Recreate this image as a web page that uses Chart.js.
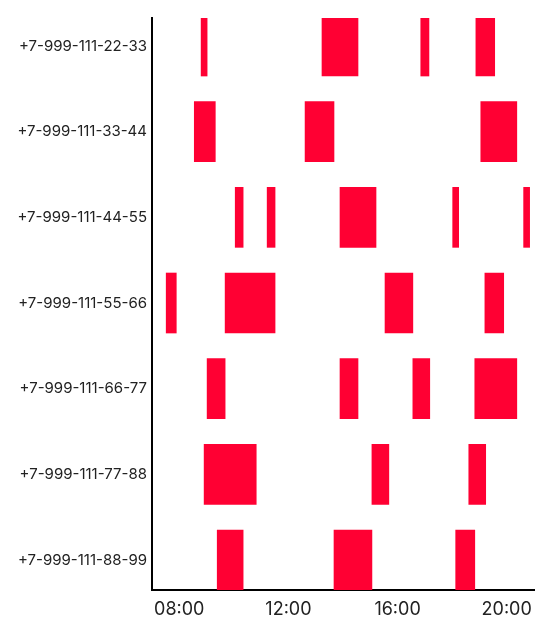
<!DOCTYPE html>
<html>
<head>
<meta charset="utf-8">
<script src="https://cdn.jsdelivr.net/npm/chart.js@4"></script>
<style>
  html, body { margin: 0; padding: 0; background: #fff; }
  #wrap { width: 559px; height: 628px; }
</style>
</head>
<body>
<div id="wrap"><canvas id="c" width="559" height="628"></canvas></div>
<script>
// Categories (rows, top to bottom)
const phones = [
  "+7-999-111-22-33",
  "+7-999-111-33-44",
  "+7-999-111-44-55",
  "+7-999-111-55-66",
  "+7-999-111-66-77",
  "+7-999-111-77-88",
  "+7-999-111-88-99"
];

// Busy intervals per phone, in decimal hours [start, end]
const calls2233 = [[8.80, 9.02], [13.23, 14.55], [16.85, 17.15], [18.87, 19.56]];
const calls3344 = [[8.55, 9.32], [12.61, 13.67], [19.05, 20.37]];
const calls4455 = [[10.05, 10.34], [11.22, 11.51], [13.89, 15.21], [18.02, 18.24], [20.62, 20.84]];
const calls5566 = [[7.52, 7.89], [9.68, 11.51], [15.54, 16.56], [19.20, 19.89]];
const calls6677 = [[9.02, 9.68], [13.89, 14.55], [16.56, 17.18], [18.83, 20.37]];
const calls7788 = [[8.91, 10.82], [15.06, 15.68], [18.61, 19.23]];
const calls8899 = [[9.39, 10.34], [13.67, 15.06], [18.13, 18.83]];

const callsByPhone = [calls2233, calls3344, calls4455, calls5566, calls6677, calls7788, calls8899];

// Time axis ticks (hours)
const hourTicks = [8, 12, 16, 20];

const points = [];
callsByPhone.forEach((list, row) => {
  list.forEach(iv => points.push({ x: [iv[0], iv[1]], y: row }));
});

new Chart(document.getElementById('c'), {
  type: 'bar',
  data: {
    datasets: [{
      data: points,
      backgroundColor: '#ff0033',
      borderWidth: 0,
      barThickness: 60
    }]
  },
  options: {
    indexAxis: 'y',
    responsive: false,
    animation: false,
    layout: { padding: { top: 18, right: 25, left: 0, bottom: 0 } },
    plugins: { legend: { display: false }, tooltip: { enabled: false } },
    scales: {
      x: {
        type: 'linear',
        position: 'bottom',
        min: 7,
        max: 21,
        offset: false,
        afterBuildTicks: (s) => { s.ticks = hourTicks.map(v => ({ value: v })); },
        afterFit: (s) => { s.height = 38; },
        grid: { display: true, color: 'rgba(0,0,0,0)', drawTicks: false },
        border: { display: true, color: '#000', width: 2 },
        ticks: {
          padding: 9,
          color: '#222',
          font: { family: "Inter, 'Liberation Sans', sans-serif", size: 18 },
          maxRotation: 0,
          autoSkip: false,
          callback: (v) => String(v).padStart(2, '0') + ':00'
        }
      },
      y: {
        type: 'linear',
        reverse: true,
        offset: false,
        min: -0.327,
        max: 6.35,
        afterBuildTicks: (s) => { s.ticks = phones.map((_, i) => ({ value: i })); },
        afterFit: (s) => { s.width = 152; },
        grid: { display: true, color: 'rgba(0,0,0,0)', drawTicks: false },
        border: { display: true, color: '#000', width: 2 },
        ticks: {
          padding: 5,
          color: '#222',
          font: { family: "Inter, 'Liberation Sans', sans-serif", size: 15 },
          autoSkip: false,
          callback: (v) => phones[v]
        }
      }
    }
  }
});
</script>
</body>
</html>
